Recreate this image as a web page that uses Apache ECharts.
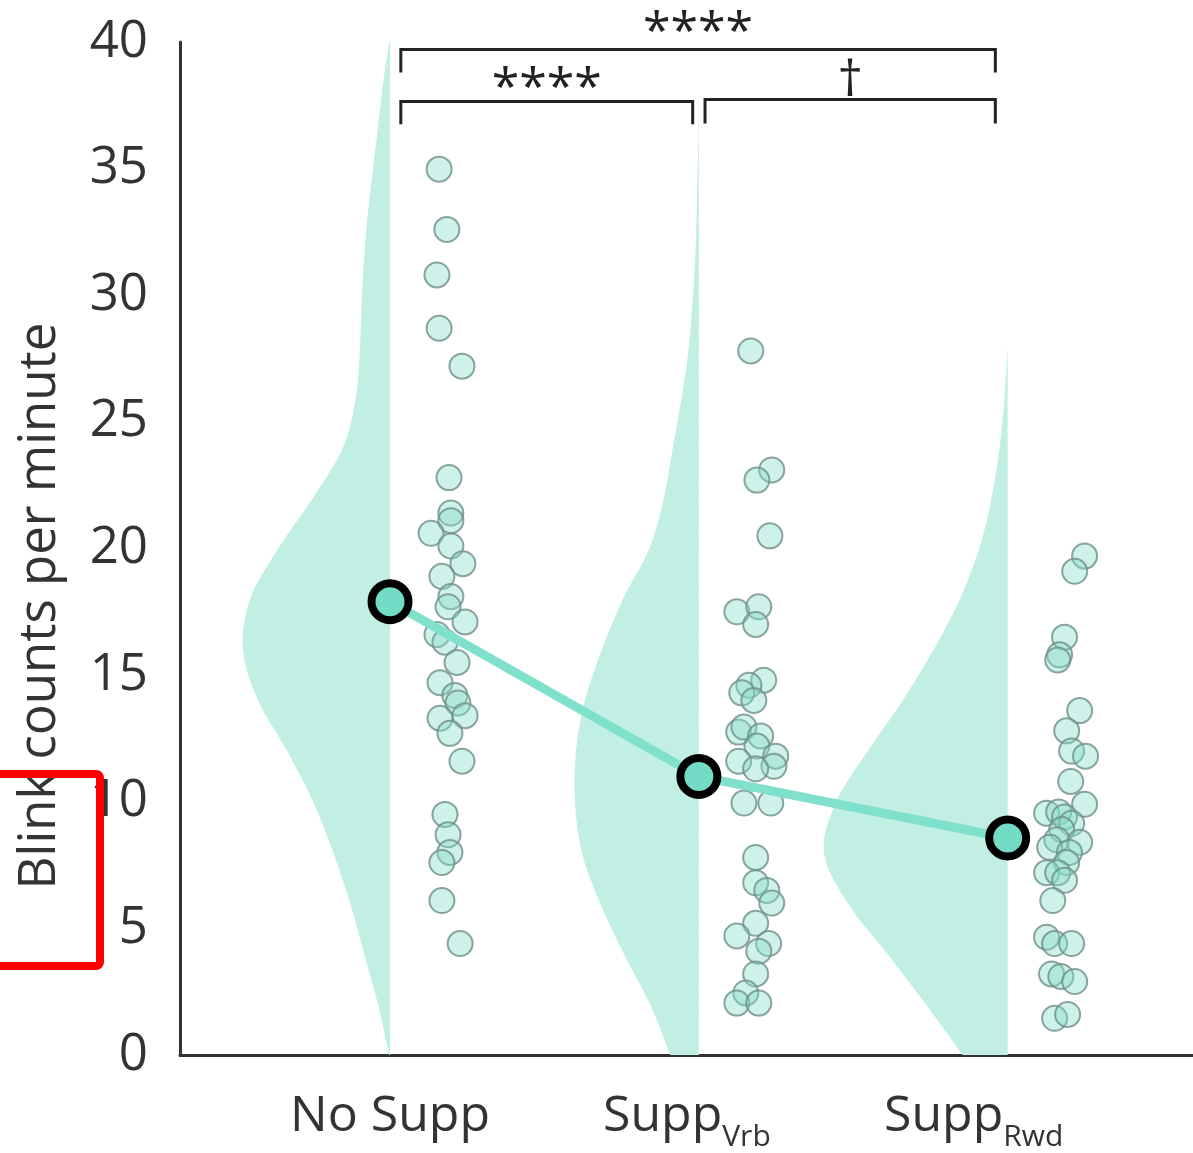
<!DOCTYPE html>
<html><head><meta charset="utf-8">
<script src="https://cdn.jsdelivr.net/npm/echarts@6/dist/echarts.min.js"></script>
<style>html,body{margin:0;padding:0;background:#fff}#c{width:1193px;height:1153px}</style>
</head><body><div id="c"></div>
<script>
// ---------- data ----------
const categories = ['No Supp', 'Supp|Vrb', 'Supp|Rwd'];
const yTicks = [0, 5, 10, 15, 20, 25, 30, 35, 40];
const yAxisTitle = 'Blink counts per minute';

// group means
const means = [17.9, 11.0, 8.57];

// individual subjects: horizontal jitter (category units) and values
const noSuppJitter = [0.159,0.184,0.152,0.159,0.233,0.191,0.197,0.197,0.133,0.197,0.236,0.168,0.197,0.188,0.243,0.152,0.178,0.217,0.162,0.210,0.220,0.243,0.162,0.194,0.233,0.178,0.188,0.194,0.168,0.168,0.227];
const noSuppVals   = [34.98,32.6,30.8,28.7,27.2,22.8,21.4,21.1,20.6,20.1,19.4,18.9,18.1,17.7,17.1,16.6,16.3,15.5,14.7,14.2,13.9,13.4,13.3,12.7,11.6,9.5,8.7,8.0,7.6,6.1,4.4];
const vrbJitter = [0.168,0.236,0.188,0.230,0.123,0.194,0.184,0.210,0.162,0.139,0.178,0.129,0.146,0.200,0.188,0.249,0.129,0.243,0.184,0.146,0.233,0.184,0.184,0.220,0.236,0.184,0.123,0.226,0.194,0.184,0.152,0.123,0.194];
const vrbVals   = [27.8,23.1,22.7,20.5,17.5,17.7,17.0,14.8,14.6,14.3,14.0,12.75,12.95,12.6,12.2,11.8,11.6,11.4,11.3,9.95,9.95,7.8,6.8,6.5,6.0,5.2,4.7,4.4,4.1,3.2,2.45,2.05,2.05];
const rwdJitter = [0.249,0.217,0.184,0.168,0.162,0.233,0.191,0.207,0.252,0.204,0.249,0.126,0.165,0.184,0.207,0.175,0.159,0.233,0.136,0.200,0.191,0.126,0.162,0.184,0.146,0.126,0.152,0.207,0.142,0.172,0.217,0.152,0.194];
const rwdVals   = [19.7,19.1,16.5,15.8,15.6,13.6,12.8,12.0,11.8,10.8,9.9,9.55,9.6,9.4,9.15,8.9,8.5,8.4,8.2,8.0,7.6,7.2,7.2,6.9,6.1,4.65,4.4,4.4,3.2,3.1,2.9,1.45,1.6];

// half-violin densities: half-width (category units) at each y level
const violinLevels = [0,2,4,6,8,10,12,14,16,18,20,22,24,26,28,30,32,34,36,38,40];
const noSuppDensity = [0.003,0.039,0.084,0.129,0.184,0.249,0.333,0.427,0.476,0.453,0.362,0.249,0.152,0.110,0.097,0.091,0.081,0.065,0.045,0.026,0.003];
const vrbDensity    = [0.092,0.158,0.243,0.320,0.379,0.401,0.398,0.369,0.314,0.246,0.160,0.113,0.084,0.055,0.032,0.019,0.010,0.006,0.002,0,0];
const rwdDensity    = [0.146,0.265,0.390,0.518,0.595,0.555,0.453,0.340,0.240,0.155,0.092,0.052,0.026,0.010,0,0,0,0,0,0,0];

// significance brackets
const bracketFrom   = [1.035, 1.035, 2.02];
const bracketTo     = [2.96, 1.98, 2.96];
const bracketLevel  = [39.7, 37.65, 37.73];
const bracketDrop   = [0.9, 0.9, 0.95];
const bracketLabels = ['****', '****', '\u2020'];
const bracketLabelLevel = [40.32, 38.12, 38.44];

// ---------- build ----------
const chart = echarts.init(document.getElementById('c'), null, {renderer: 'canvas'});
const FONT = '"Open Sans", "Noto Sans", sans-serif';
const TEXT = '#333333';
const VIOLIN = '#c2efe4';

const groups = [
  {jit: noSuppJitter, vals: noSuppVals, dens: noSuppDensity},
  {jit: vrbJitter, vals: vrbVals, dens: vrbDensity},
  {jit: rwdJitter, vals: rwdVals, dens: rwdDensity}
];

const points = [];
groups.forEach((g, gi) => g.vals.forEach((v, i) => points.push([gi + 1 + g.jit[i], v])));

function smoothPath(pts) {
  // Catmull-Rom through pts -> cubic bezier path segments
  let d = 'M' + pts[0][0] + ',' + pts[0][1];
  for (let i = 0; i < pts.length - 1; i++) {
    const p0 = pts[Math.max(i - 1, 0)], p1 = pts[i], p2 = pts[i + 1], p3 = pts[Math.min(i + 2, pts.length - 1)];
    const c1 = [p1[0] + (p2[0] - p0[0]) / 6, p1[1] + (p2[1] - p0[1]) / 6];
    const c2 = [p2[0] - (p3[0] - p1[0]) / 6, p2[1] - (p3[1] - p1[1]) / 6];
    d += 'C' + c1[0] + ',' + c1[1] + ' ' + c2[0] + ',' + c2[1] + ' ' + p2[0] + ',' + p2[1];
  }
  return d;
}

const series = [];
// violins
series.push({
  type: 'custom',
  z: 1,
  silent: true,
  data: groups.map((g, gi) => [gi + 1]),
  renderItem: function (params, api) {
    const gi = params.dataIndex;
    const c = gi + 1;
    const dens = groups[gi].dens;
    let last = dens.length - 1;
    while (last > 0 && dens[last] === 0 && dens[last - 1] === 0) last--;
    const left = [];
    for (let k = 0; k <= last; k++) left.push(api.coord([c - dens[k], violinLevels[k]]));
    const topC = api.coord([c, violinLevels[last]]);
    const botC = api.coord([c, violinLevels[0]]);
    let d = smoothPath(left);
    d += 'L' + topC[0] + ',' + topC[1] + 'L' + botC[0] + ',' + botC[1] + 'Z';
    return {
      type: 'path',
      shape: {pathData: d},
      style: {fill: VIOLIN, stroke: null}
    };
  }
});
// subjects
series.push({
  type: 'scatter',
  z: 2,
  data: points,
  symbolSize: 25,
  itemStyle: {color: 'rgba(133,221,201,0.5)', borderColor: '#6f8f89', borderWidth: 2},
  silent: true
});
// means
series.push({
  type: 'line',
  z: 3,
  data: means.map((m, i) => [i + 1, m]),
  lineStyle: {color: '#7fe0cc', width: 9},
  symbol: 'circle',
  symbolSize: 37,
  itemStyle: {color: '#72dcc6', borderColor: '#000', borderWidth: 8},
  silent: true
});
// brackets
series.push({
  type: 'custom',
  z: 4,
  silent: true,
  clip: false,
  data: bracketLabels.map((l, i) => [i]),
  renderItem: function (params, api) {
    const i = params.dataIndex;
    const a = api.coord([bracketFrom[i], bracketLevel[i]]);
    const b = api.coord([bracketTo[i], bracketLevel[i]]);
    const d = api.coord([bracketFrom[i], bracketLevel[i] - bracketDrop[i]]);
    const t = api.coord([(bracketFrom[i] + bracketTo[i]) / 2, bracketLabelLevel[i]]);
    return {
      type: 'group',
      children: [
        {type: 'polyline', shape: {points: [[a[0], d[1]], a, b, [b[0], d[1]]]},
         style: {stroke: '#222', lineWidth: 3, fill: null}},
        {type: 'text', x: t[0], y: t[1],
         style: {text: bracketLabels[i], align: 'center', verticalAlign: 'middle',
                 font: '50px ' + FONT, fill: '#222'}}
      ]
    };
  }
});

const catLabel = function (v) {
  const idx = Math.round(v) - 1;
  const name = categories[idx];
  if (!name) return '';
  const parts = name.split('|');
  if (parts.length === 1) return '{a|' + parts[0] + '}';
  return '{a|' + parts[0] + '}{b|' + parts[1] + '}{g' + idx + '| }';
};

chart.setOption({
  animation: false,
  backgroundColor: '#fff',
  grid: {left: 180, right: 0, top: 42, bottom: 98},
  xAxis: {
    type: 'value', min: 0.32, max: 3.6,
    splitLine: {show: false},
    axisLine: {show: true, lineStyle: {color: '#333', width: 3}},
    axisTick: {show: false},
    axisLabel: {
      customValues: [1, 2, 3],
      margin: 22,
      formatter: catLabel,
      rich: {
        a: {fontSize: 50, fontFamily: FONT, color: TEXT, lineHeight: 80},
        b: {fontSize: 30, fontFamily: FONT, color: TEXT, lineHeight: 30, padding: [40, 0, 0, 0]},
        g1: {fontSize: 30, width: 24},
        g2: {fontSize: 30, width: 68}
      }
    }
  },
  yAxis: {
    type: 'value', min: 0, max: 40, interval: 5,
    splitLine: {show: false},
    axisLine: {show: true, lineStyle: {color: '#333', width: 3}},
    axisTick: {show: false},
    axisLabel: {fontSize: 51, fontFamily: FONT, color: TEXT, margin: 32,
      formatter: function (v) { return yTicks.indexOf(v) >= 0 ? String(v) : ''; }}
  },
  graphic: [
    {type: 'text', x: 40, y: 606, rotation: Math.PI / 2, z: 10,
     style: {text: yAxisTitle, font: '51px ' + FONT, fill: TEXT, align: 'center', verticalAlign: 'middle'}},
    {type: 'rect', z: 20, shape: {x: -20, y: 774, width: 120, height: 192, r: 4},
     style: {fill: null, stroke: '#ff0000', lineWidth: 8}}
  ],
  series: series
});
</script></body></html>
